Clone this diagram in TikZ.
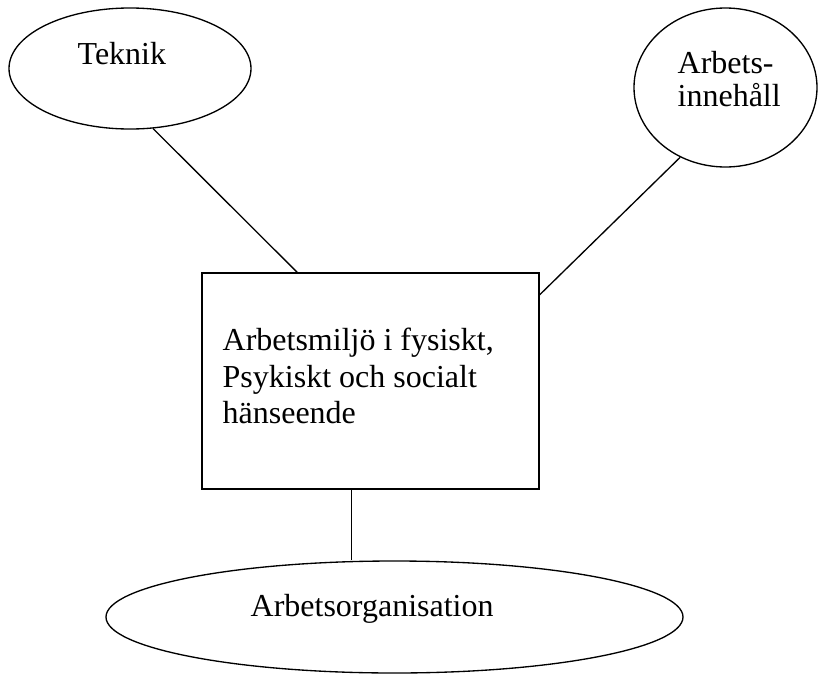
\documentclass[tikz,border=0pt]{standalone}
\usepackage{fontspec}
\setmainfont{Liberation Serif}
\usetikzlibrary{shapes.geometric}

\begin{document}
\begin{tikzpicture}[x=0.75pt,y=-0.75pt,line width=1pt,
  bubble/.style={draw,ellipse,inner sep=0pt},
  lbl/.style={inner sep=0pt,anchor=base west,font=\fontsize{24}{28}\selectfont}]
  \def\pxl{0.75pt}
  \useasboundingbox (0,0) rectangle (818,675);

  % shapes
  \node[bubble,minimum width=242*\pxl,minimum height=121*\pxl] (tek) at (130,68.5) {};
  \node[bubble,minimum width=183*\pxl,minimum height=159*\pxl] (inn) at (725.5,87.5) {};
  \node[bubble,minimum width=577*\pxl,minimum height=112*\pxl] (org) at (394.5,617) {};
  \node[draw,rectangle,inner sep=0pt,minimum width=337*\pxl,minimum height=216*\pxl] (miljo) at (370.5,381) {};

  % texts
  \node[lbl] (tekTxt) at (77,64) {Teknik};
  \foreach \t/\y [count=\i] in {Arbets-/73,innehåll/106} {
    \node[lbl] (innTxt\i) at (677,\y) {\t};
  }
  \foreach \t/\y [count=\i] in {{Arbetsmiljö i fysiskt,}/350,Psykiskt och socialt/387,hänseende/423} {
    \node[lbl] (miljoTxt\i) at (222,\y) {\t};
  }
  \node[lbl] (orgTxt) at (250,616) {Arbetsorganisation};

  % connectors
  \draw (tek.-69) -- (miljo.124);
  \draw (inn.-123) -- (miljo.27);
  \draw (miljo.-100) -- (miljo.-100 |- org.north);
\end{tikzpicture}
\end{document}
